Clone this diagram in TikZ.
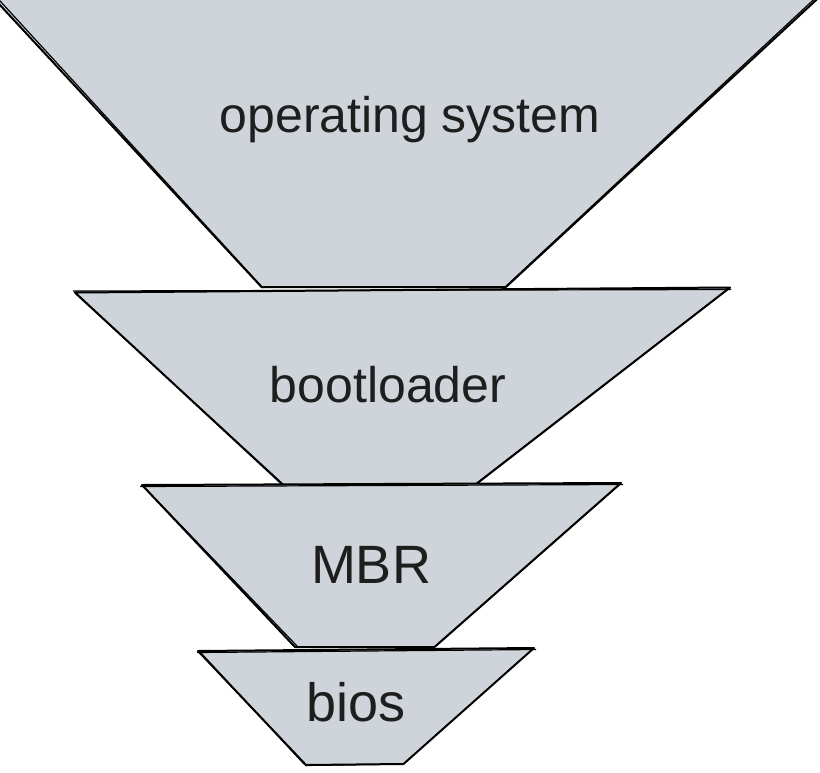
\documentclass[tikz,border=0pt]{standalone}
\usepackage{fontspec}
\setmainfont{Liberation Sans}
\definecolor{funnelfill}{HTML}{CED4DA}
\definecolor{inkcol}{HTML}{1E1E1E}
\begin{document}
\begin{tikzpicture}[x=1pt,y=-1pt,
  layer/.style={fill=funnelfill,draw=black,line width=2pt,line join=round},
  sketch/.style={draw=black,line width=1.2pt,line join=round},
  label/.style={text=inkcol,font=\fontsize{50}{60}\selectfont,anchor=base,inner sep=0pt},
  biglabel/.style={label,font=\fontsize{54}{64}\selectfont}]
\useasboundingbox (0,0) rectangle (820,772);
\begin{scope}
\clip (0,0) rectangle (820,772);
% operating system
\path[layer] (-14,-10) -- (827,-10) -- (506,287) -- (261.5,287) -- cycle;
\draw[sketch] (-10,-10) -- (263,288);
\draw[sketch] (824,-10) -- (504,288);
% bootloader
\path[layer] (75,292.5) -- (730,287.5) -- (475,485) -- (283,485) -- cycle;
\draw[sketch] (73,291) -- (731,289.5);
\draw[sketch] (76,294) -- (285,486);
\draw[sketch] (727,290) -- (473,486);
% MBR
\path[layer] (142,485) -- (621,483) -- (434.5,647) -- (295,647) -- cycle;
\draw[sketch] (140,486.5) -- (623,484.5);
\draw[sketch] (144,487) -- (297,646);
\draw[sketch] (619,485) -- (436,646);
% bios
\path[layer] (198,651) -- (534,648) -- (403.5,764) -- (306,765) -- cycle;
\draw[sketch] (197,652.5) -- (536,649.5);
\draw[sketch] (201,653) -- (304,764);
\draw[sketch] (305,765.5) -- (402,764);
\end{scope}
\node[label] (os) at (410,132) {operating system};
\node[label] (boot) at (388,402) {bootloader};
\node[biglabel] (mbr) at (371,583) {MBR};
\node[biglabel] (bios) at (356,721) {bios};
\end{tikzpicture}
\end{document}
